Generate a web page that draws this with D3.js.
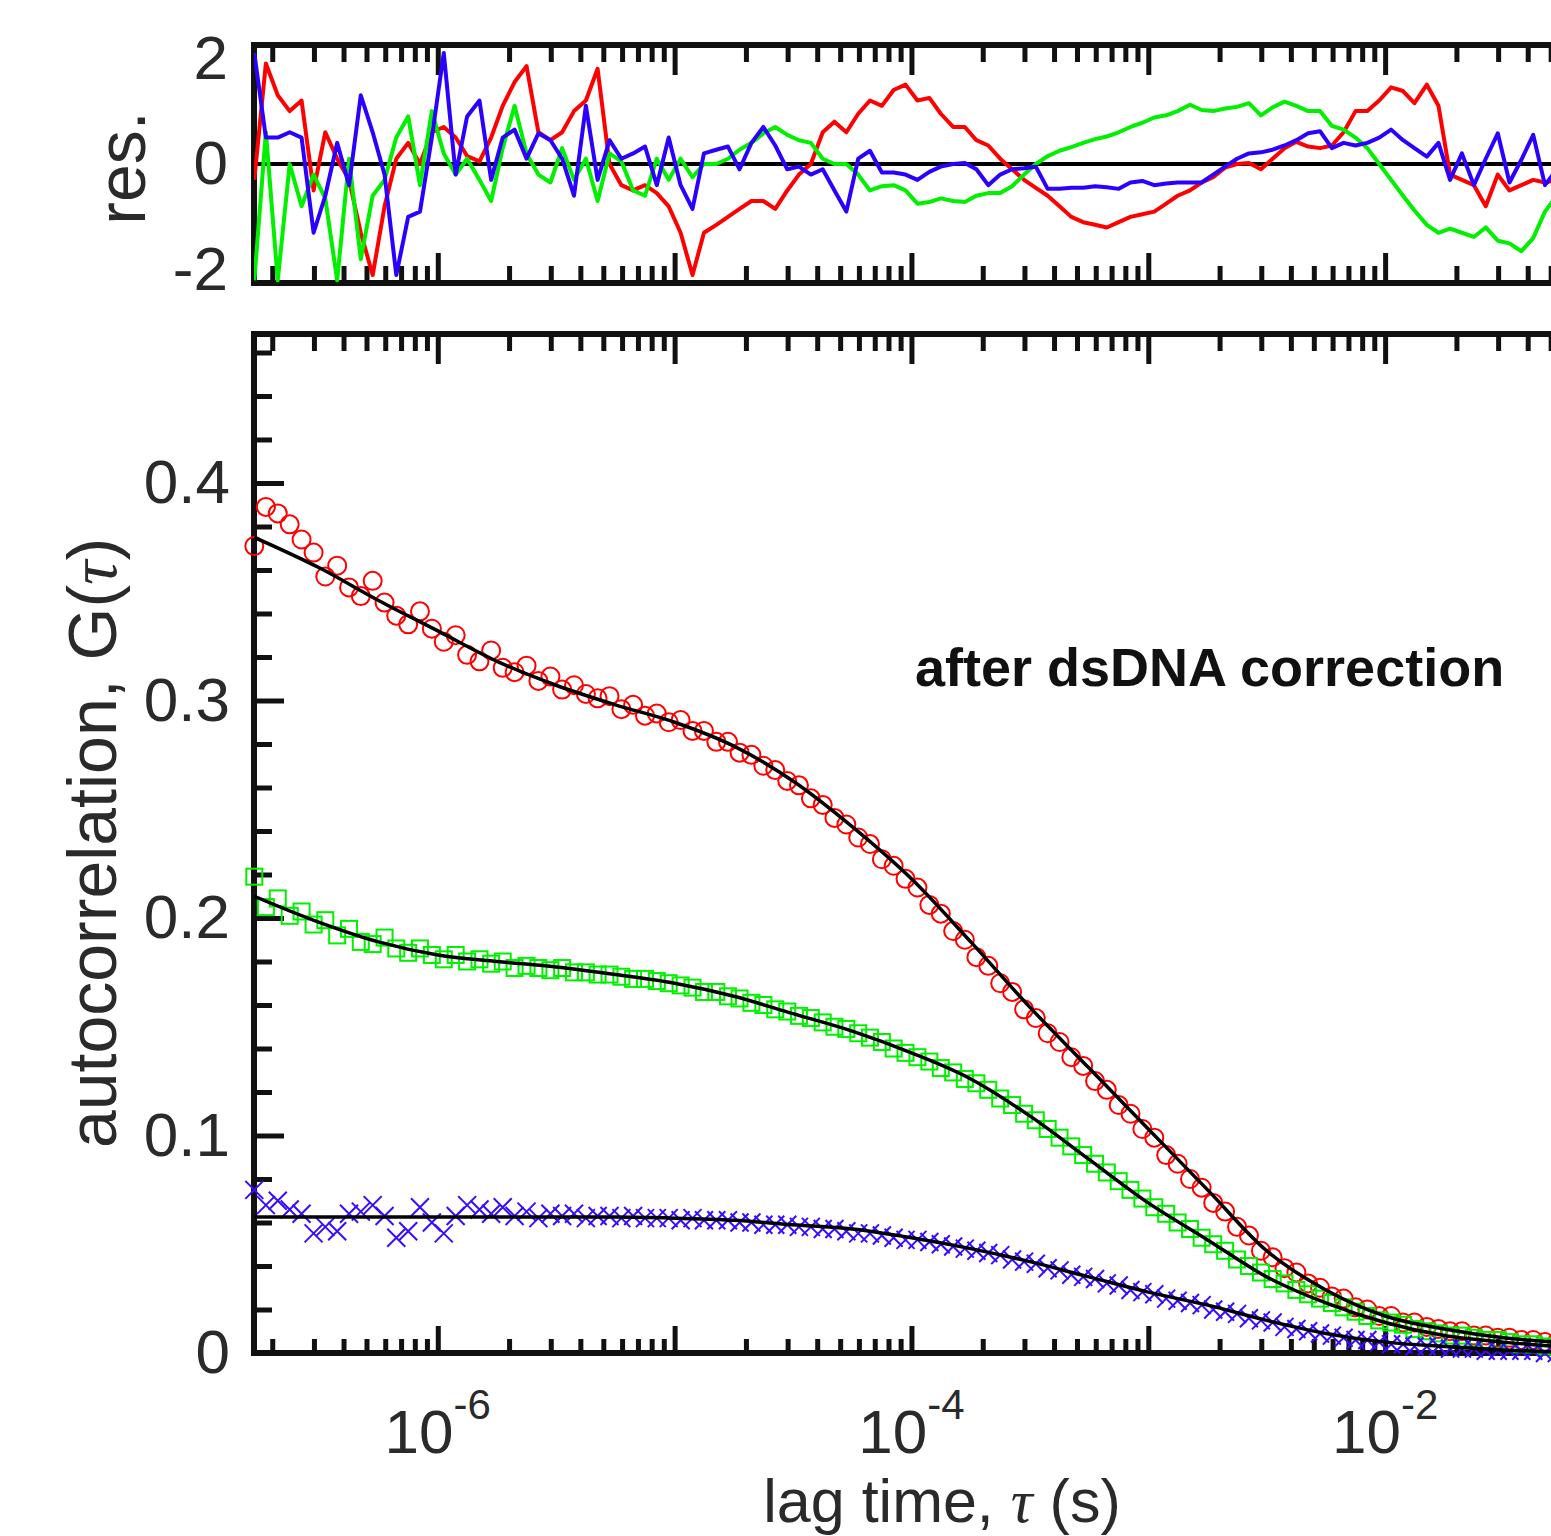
<!DOCTYPE html>
<html lang="en">
<head>
<meta charset="UTF-8">
<title>Autocorrelation after dsDNA correction</title>
<script src="https://d3js.org/d3.v7.min.js"></script>
<style>
  html, body { margin: 0; padding: 0; background: #fff; }
  svg { display: block; }
  text { font-family: "Liberation Sans", Arial, Helvetica, sans-serif; fill: #2a2a2a; }
  .tick line { stroke: #111; stroke-width: 5; }
  .tick-label { font-size: 62px; }
  .axis-label { font-size: 68px; }
  .frame { fill: none; stroke: #111; stroke-width: 6; }
</style>
</head>
<body>
<svg id="chart"></svg>
<script>
// lag times (s) of the correlator channels, shared by data points and residuals
const tau = [
  1.68e-7, 1.88e-7, 2.11e-7, 2.37e-7, 2.66e-7, 2.99e-7, 3.35e-7, 3.76e-7, 4.22e-7, 4.73e-7, 5.31e-7, 5.96e-7, 6.68e-7, 7.5e-7, 8.41e-7, 9.44e-7,
  1.06e-6, 1.19e-6, 1.33e-6, 1.5e-6, 1.68e-6, 1.88e-6, 2.11e-6, 2.37e-6, 2.66e-6, 2.99e-6, 3.35e-6, 3.76e-6, 4.22e-6, 4.73e-6, 5.31e-6, 5.96e-6, 6.68e-6, 7.5e-6, 8.41e-6, 9.44e-6,
  1.06e-5, 1.19e-5, 1.33e-5, 1.5e-5, 1.68e-5, 1.88e-5, 2.11e-5, 2.37e-5, 2.66e-5, 2.99e-5, 3.35e-5, 3.76e-5, 4.22e-5, 4.73e-5, 5.31e-5, 5.96e-5, 6.68e-5, 7.5e-5, 8.41e-5, 9.44e-5,
  1.06e-4, 1.19e-4, 1.33e-4, 1.5e-4, 1.68e-4, 1.88e-4, 2.11e-4, 2.37e-4, 2.66e-4, 2.99e-4, 3.35e-4, 3.76e-4, 4.22e-4, 4.73e-4, 5.31e-4, 5.96e-4, 6.68e-4, 7.5e-4, 8.41e-4, 9.44e-4,
  1.06e-3, 1.19e-3, 1.33e-3, 1.5e-3, 1.68e-3, 1.88e-3, 2.11e-3, 2.37e-3, 2.66e-3, 2.99e-3, 3.35e-3, 3.76e-3, 4.22e-3, 4.73e-3, 5.31e-3, 5.96e-3, 6.68e-3, 7.5e-3, 8.41e-3, 9.44e-3,
  1.06e-2, 1.19e-2, 1.33e-2, 1.5e-2, 1.68e-2, 1.88e-2, 2.11e-2, 2.37e-2, 2.66e-2, 2.99e-2, 3.35e-2, 3.76e-2, 4.22e-2, 4.73e-2, 5.31e-2
];

// measured autocorrelation G(tau)
const redG = [
  .371, .389, .386, .381, .374, .368, .357, .362, .352, .348,
  .355, .345, .339, .335, .341, .333, .327, .330, .321, .318,
  .323, .315, .313, .316, .309, .311, .305, .307, .303, .301,
  .302, .296, .298, .293, .294, .290, .291, .286, .286, .281,
  .281, .276, .275, .270, .268, .263, .261, .255, .252, .246,
  .243, .237, .234, .227, .224, .218, .214, .206, .202, .194,
  .190, .182, .178, .170, .166, .158, .154, .147, .143, .136,
  .132, .125, .121, .114, .110, .103, .099, .091, .087, .080,
  .076, .069, .065, .058, .054, .047, .044, .039, .037, .032,
  .030, .026, .025, .021, .020, .017, .017, .014, .014, .012,
  .011, .010, .010, .008, .008, .007, .007, .006, .006, .005,
  .005
];
const greenG = [
  .219, .205, .209, .201, .203, .197, .199, .192, .195, .189,
  .188, .191, .186, .184, .186, .183, .181, .183, .180, .181,
  .179, .180, .177, .178, .177, .176, .177, .175, .175, .174,
  .174, .173, .172, .172, .171, .170, .169, .168, .166, .166,
  .164, .163, .161, .160, .158, .157, .155, .154, .152, .150,
  .149, .147, .145, .143, .140, .138, .136, .134, .131, .129,
  .126, .124, .121, .117, .114, .110, .107, .103, .099, .095,
  .091, .087, .083, .079, .075, .071, .067, .064, .060, .057,
  .053, .050, .047, .043, .040, .037, .034, .032, .029, .027,
  .025, .023, .021, .019, .017, .015, .014, .013, .011, .010,
  .009, .008, .008, .007, .006, .006, .005, .004, .004, .003,
  .003
];
const blueG = [
  .075, .068, .070, .066, .064, .055, .058, .056, .064, .065,
  .068, .063, .053, .056, .067, .060, .055, .063, .068, .066,
  .064, .067, .063, .065, .062, .064, .063, .064, .062, .063,
  .063, .062, .063, .062, .062, .062, .061, .062, .061, .061,
  .061, .060, .060, .059, .059, .059, .058, .058, .057, .057,
  .056, .055, .055, .054, .053, .052, .052, .051, .050, .049,
  .048, .047, .046, .045, .043, .042, .041, .039, .038, .036,
  .035, .034, .032, .031, .029, .028, .027, .025, .024, .023,
  .022, .020, .019, .018, .016, .015, .014, .012, .011, .010,
  .009, .008, .007, .006, .006, .005, .004, .004, .003, .003,
  .003, .002, .002, .002, .001, .001, .001, .001, .001, .000,
  .000
];

// fitted curves
const fitTau = [1.68e-7, 3.16e-7, 5.62e-7, 1e-6, 1.78e-6, 3.16e-6, 5.62e-6, 1e-5, 1.78e-5, 3.16e-5, 5.62e-5, 1e-4,
  1.78e-4, 3.16e-4, 5.62e-4, 1e-3, 1.78e-3, 3.16e-3, 5.62e-3, 1e-2, 1.78e-2, 3.16e-2, 5.31e-2];
const redFit = [.375, .361, .346, .332, .318, .307, .298, .290, .279, .263, .242, .218,
  .189, .159, .131, .103, .075, .047, .029, .017, .011, .007, .005];
const greenFit = [.210, .198, .189, .183, .180, .1775, .174, .170, .164, .156, .148, .138,
  .126, .109, .089, .069, .052, .035, .023, .014, .008, .005, .003];
const blueFit = [.0625, .0625, .0625, .0625, .0625, .0625, .0625, .062, .061, .059, .057, .053,
  .048, .042, .035, .028, .022, .015, .009, .005, .003, .0014, .0005];

// residuals of the fits
const redRes = [
  -0.3, 1.9, 1.3, 1.0, 1.2, -0.5, 0.6, 0.1, -0.3, -1.3,
  -2.1, -0.8, 0.1, 0.4, 0.0, 0.6, 0.7, 0.5, 0.15, 0.05,
  0.5, 1.1, 1.55, 1.85, 0.6, 0.45, 0.6, 1.0, 1.2, 1.8,
  0.0, -0.4, -0.5, -0.4, -0.55, -0.8, -1.3, -2.1, -1.3, -1.15,
  -1.0, -0.85, -0.7, -0.7, -0.85, -0.5, -0.2, 0.0, 0.6, 0.8,
  0.6, 0.95, 1.2, 1.1, 1.4, 1.5, 1.2, 1.25, 0.95, 0.7,
  0.7, 0.45, 0.35, 0.1, -0.1, -0.3, -0.45, -0.6, -0.8, -1.0,
  -1.1, -1.15, -1.2, -1.1, -1.0, -0.95, -0.9, -0.75, -0.6, -0.5,
  -0.35, -0.25, -0.07, 0.0, 0.02, -0.1, 0.1, 0.3, 0.42, 0.33,
  0.3, 0.35, 0.6, 1.0, 1.0, 1.2, 1.45, 1.38, 1.15, 1.5,
  1.1, -0.2, -0.3, -0.4, -0.8, -0.2, -0.5, -0.4, -0.3, -0.35,
  -0.3
];
const greenRes = [
  -2.2, 0.6, -2.2, 0.0, -0.8, -0.2, -0.65, -2.2, 0.1, -1.8,
  -0.6, -0.3, 0.5, 0.9, -0.4, 1.0, 0.2, -0.2, 0.1, -0.3,
  -0.7, 0.3, 1.1, 0.2, -0.2, -0.35, 0.3, -0.3, 0.1, -0.7,
  0.2, 0.05, -0.5, -0.6, 0.1, -0.3, 0.1, -0.25, 0.0, 0.0,
  0.1, 0.27, 0.4, 0.58, 0.7, 0.55, 0.45, 0.4, 0.1, 0.0,
  0.0, -0.2, -0.5, -0.42, -0.4, -0.5, -0.75, -0.72, -0.65, -0.7,
  -0.72, -0.6, -0.55, -0.55, -0.42, -0.2, 0.0, 0.15, 0.25, 0.32,
  0.4, 0.47, 0.52, 0.6, 0.7, 0.78, 0.88, 0.92, 1.0, 1.12,
  1.02, 1.0, 1.05, 1.08, 1.15, 0.92, 1.07, 1.18, 1.1, 1.0,
  1.0, 0.72, 0.65, 0.5, 0.3, 0.0, -0.3, -0.6, -0.88, -1.15,
  -1.3, -1.22, -1.3, -1.38, -1.2, -1.45, -1.5, -1.65, -1.4, -0.9,
  -0.6
];
const blueRes = [
  2.1, 0.5, 0.5, 0.6, 0.5, -1.3, -0.6, 0.4, -0.4, 1.3,
  0.6, -0.2, -2.1, -1.0, -0.9, 0.5, 2.1, -0.2, 0.9, 1.2,
  -0.3, 0.5, 0.65, 0.1, 0.58, 0.45, 0.1, -0.6, 1.1, -0.3,
  0.45, 0.1, 0.2, 0.33, -0.4, 0.5, -0.4, -0.85, 0.2, 0.27,
  0.33, -0.1, 0.4, 0.7, 0.35, -0.1, -0.05, -0.2, -0.1, -0.5,
  -0.9, 0.1, 0.25, -0.16, -0.16, -0.2, -0.3, -0.15, -0.05, 0.0,
  0.02, -0.1, -0.4, -0.2, -0.1, -0.08, -0.05, -0.47, -0.47, -0.45,
  -0.45, -0.42, -0.44, -0.47, -0.35, -0.32, -0.4, -0.37, -0.35, -0.35,
  -0.35, -0.2, -0.05, 0.1, 0.2, 0.22, 0.27, 0.35, 0.45, 0.58,
  0.62, 0.3, 0.4, 0.35, 0.4, 0.5, 0.65, 0.45, 0.3, 0.14,
  0.4, -0.3, 0.2, -0.4, 0.1, 0.58, -0.35, 0.08, 0.55, -0.4,
  -0.1
];

const yTicksMain = [0, 0.1, 0.2, 0.3, 0.4];
const yTicksRes = [-2, 0, 2];
const annotation = "after dsDNA correction";

// layout
const width = 1551, height = 1536;
const plotLeft = 254, plotRight = 1560;
const resTop = 45, resBottom = 283;
const mainTop = 334, mainBottom = 1353;
const colors = { red: "#ff0000", green: "#00f000", blue: "#3a0cff", blueLine: "#2c00ff" };

const svg = d3.select("#chart").attr("width", width).attr("height", height);

const x = d3.scaleLog().domain([1.675e-7, 5.475e-2]).range([plotLeft, plotRight]);
const yRes = d3.scaleLinear().domain([-2.25, 2.25]).range([resBottom, resTop]);
const yG = d3.scaleLinear().domain([0, 0.4685]).range([mainBottom, mainTop]);

const allXTicks = x.ticks();
const majorX = allXTicks.filter(d => Math.abs(Math.log10(d) - Math.round(Math.log10(d))) < 1e-6);
const minorX = allXTicks.filter(d => !majorX.includes(d));

// tick marks along a horizontal edge, pointing into the panel
function xTickMarks(yPos, axisFn, values, len) {
  svg.append("g")
    .attr("transform", `translate(0,${yPos})`)
    .call(axisFn(x).tickValues(values).tickSize(-len).tickFormat(""))
    .call(g => g.select(".domain").remove())
    .call(g => g.selectAll("text").remove());
}

// ----- residual panel -----
xTickMarks(resTop, d3.axisTop, minorX, 17);
xTickMarks(resTop, d3.axisTop, majorX, 30);
xTickMarks(resBottom, d3.axisBottom, minorX, 17);
xTickMarks(resBottom, d3.axisBottom, majorX, 30);

svg.append("g")
  .attr("transform", `translate(${plotLeft},0)`)
  .call(d3.axisLeft(yRes).tickValues(yTicksRes).tickSize(0).tickPadding(26).tickFormat(d => String(d)))
  .call(g => g.select(".domain").remove())
  .call(g => g.attr("font-size", null).attr("font-family", null))
  .selectAll("text").attr("class", "tick-label");

svg.append("rect").attr("class", "frame")
  .attr("x", plotLeft).attr("y", resTop)
  .attr("width", plotRight - plotLeft).attr("height", resBottom - resTop);

svg.append("clipPath").attr("id", "res-clip")
  .append("rect").attr("x", plotLeft).attr("y", resTop)
  .attr("width", plotRight - plotLeft).attr("height", resBottom - resTop);

const resLayer = svg.append("g").attr("clip-path", "url(#res-clip)");

resLayer.append("line")
  .attr("x1", plotLeft).attr("x2", plotRight)
  .attr("y1", yRes(0)).attr("y2", yRes(0))
  .attr("stroke", "#000").attr("stroke-width", 4);

const resLine = d3.line().x(d => x(d[0])).y(d => yRes(d[1]));
[[redRes, colors.red], [greenRes, colors.green], [blueRes, colors.blueLine]].forEach(([vals, c]) => {
  resLayer.append("path")
    .datum(d3.zip(tau, vals))
    .attr("fill", "none")
    .attr("stroke", c)
    .attr("stroke-width", 4)
    .attr("stroke-linejoin", "round")
    .attr("d", resLine);
});

svg.append("text").attr("class", "axis-label")
  .attr("transform", `translate(145,168) rotate(-90)`)
  .attr("text-anchor", "middle")
  .text("res.");

// ----- autocorrelation panel -----
xTickMarks(mainTop, d3.axisTop, minorX, 17);
xTickMarks(mainTop, d3.axisTop, majorX, 30);
xTickMarks(mainBottom, d3.axisBottom, minorX, 14);
xTickMarks(mainBottom, d3.axisBottom, majorX, 27);

// decade labels 10^n under the bottom axis
svg.append("g")
  .selectAll("text")
  .data(majorX.filter(d => d >= 1e-6 && d <= 1e-2 && Math.round(Math.log10(d)) % 2 === 0))
  .join("text")
  .attr("class", "tick-label")
  .attr("x", d => x(d))
  .attr("y", mainBottom + 100)
  .attr("text-anchor", "middle")
  .each(function(d) {
    const t = d3.select(this);
    t.append("tspan").text("10");
    t.append("tspan").attr("dy", -34).attr("font-size", 42).text(String(Math.round(Math.log10(d))));
  });

const minorY = d3.range(1, 24).map(i => i * 0.02).filter(v => Math.abs(v * 10 - Math.round(v * 10)) > 1e-6);

svg.append("g")
  .attr("transform", `translate(${plotLeft},0)`)
  .call(d3.axisLeft(yG).tickValues(minorY).tickSize(-18).tickFormat(""))
  .call(g => g.select(".domain").remove())
  .call(g => g.selectAll("text").remove());

svg.append("g")
  .attr("transform", `translate(${plotLeft},0)`)
  .call(d3.axisLeft(yG).tickValues(yTicksMain).tickSize(-30).tickPadding(24)
    .tickFormat(d => d === 0 ? "0" : d3.format(".1f")(d)))
  .call(g => g.select(".domain").remove())
  .call(g => g.attr("font-size", null).attr("font-family", null))
  .selectAll("text").attr("class", "tick-label");

svg.append("path").attr("class", "frame")
  .attr("d", `M${plotRight},${mainTop}H${plotLeft}V${mainBottom}H${plotRight}`);

// data points
const dataLayer = svg.append("g");

dataLayer.append("g").selectAll("circle")
  .data(d3.zip(tau, redG))
  .join("circle")
  .attr("cx", d => x(d[0])).attr("cy", d => yG(d[1]))
  .attr("r", 9)
  .attr("fill", "none").attr("stroke", colors.red).attr("stroke-width", 2);

dataLayer.append("g").selectAll("rect")
  .data(d3.zip(tau, greenG))
  .join("rect")
  .attr("x", d => x(d[0]) - 8).attr("y", d => yG(d[1]) - 8)
  .attr("width", 16).attr("height", 16)
  .attr("fill", "none").attr("stroke", colors.green).attr("stroke-width", 2);

dataLayer.append("g").selectAll("path")
  .data(d3.zip(tau, blueG))
  .join("path")
  .attr("transform", d => `translate(${x(d[0])},${yG(d[1])})`)
  .attr("d", "M-9,-9L9,9M-9,9L9,-9")
  .attr("fill", "none").attr("stroke", colors.blue).attr("stroke-width", 2);

// fit lines
const fitLine = d3.line().curve(d3.curveMonotoneX).x(d => x(d[0])).y(d => yG(d[1]));
[redFit, greenFit, blueFit].forEach(vals => {
  svg.append("path")
    .datum(d3.zip(fitTau, vals))
    .attr("fill", "none")
    .attr("stroke", "#000")
    .attr("stroke-width", 3.5)
    .attr("d", fitLine);
});

svg.append("text")
  .attr("x", 915).attr("y", 686)
  .attr("font-size", 54).attr("font-weight", "bold")
  .style("fill", "#111")
  .text(annotation);

// axis titles
const yTitle = svg.append("text").attr("class", "axis-label")
  .attr("transform", "translate(116,843) rotate(-90)")
  .attr("text-anchor", "middle");
yTitle.append("tspan").text("autocorrelation, G(");
yTitle.append("tspan").attr("font-style", "italic").style("font-family", "'Liberation Serif', serif").text("\u03c4");
yTitle.append("tspan").text(")");

const xTitle = svg.append("text").attr("class", "axis-label")
  .attr("x", 942).attr("y", 1522)
  .style("font-size", "61px")
  .attr("text-anchor", "middle");
xTitle.append("tspan").text("lag time, ");
xTitle.append("tspan").attr("font-style", "italic").style("font-family", "'Liberation Serif', serif").text("\u03c4");
xTitle.append("tspan").text(" (s)");
</script>
</body>
</html>
